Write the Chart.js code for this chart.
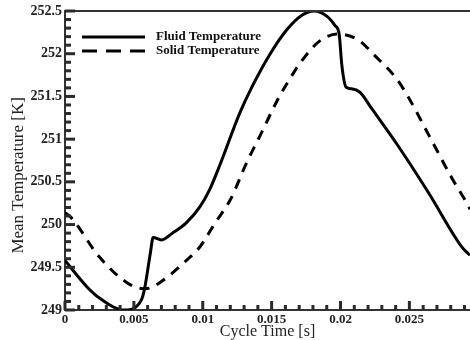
<!DOCTYPE html>
<html>
<head>
<meta charset="utf-8">
<script src="https://cdn.jsdelivr.net/npm/chart.js@4.4.1/dist/chart.umd.min.js"></script>
<style>
  body { margin: 0; background: #fff; }
  canvas { display: block; }
</style>
</head>
<body>
<canvas id="temp" width="470" height="340"></canvas>
<script>
// fluid temperature (solid line)
const fluidTime = [0, 0.0016, 0.0025, 0.0043, 0.005, 0.0056, 0.0058, 0.0062, 0.0064, 0.007, 0.0078, 0.0088,
  0.0098, 0.0105, 0.0112, 0.0127, 0.0136, 0.0149, 0.0161, 0.0172, 0.0181, 0.019, 0.0196, 0.0199,
  0.0201, 0.0204, 0.0208, 0.0214, 0.0223, 0.0241, 0.0264, 0.0288, 0.0294];
const fluidTemp = [249.58, 249.27, 249.14, 249.0, 249.02, 249.14, 249.27, 249.67, 249.85, 249.82, 249.9, 250.02,
  250.21, 250.41, 250.68, 251.31, 251.62, 252.0, 252.28, 252.45, 252.5, 252.44, 252.33, 252.23,
  251.86, 251.61, 251.59, 251.55, 251.35, 250.94, 250.37, 249.74, 249.64];

// solid temperature (dashed line)
const solidTime = [0, 0.0004, 0.0025, 0.0045, 0.0057, 0.0062, 0.0074, 0.0086, 0.0098, 0.0109, 0.012,
  0.0132, 0.0141, 0.0154, 0.0163, 0.0172, 0.0185, 0.0198, 0.0212, 0.0226, 0.0241, 0.025,
  0.0264, 0.0281, 0.0291, 0.0294];
const solidTemp = [250.14, 250.09, 249.62, 249.32, 249.25, 249.26, 249.38, 249.55, 249.74, 250.02, 250.29,
  250.73, 251.02, 251.45, 251.7, 251.92, 252.15, 252.23, 252.17, 251.96, 251.7, 251.47,
  251.05, 250.54, 250.27, 250.18];

const xMin = 0, xMax = 0.0294;
const yMin = 249, yMax = 252.5;
const xMajor = 0.005, xMinorStep = 0.001;
const yMajor = 0.5, yMinorStep = 0.1;

const serif = "'Liberation Serif', 'DejaVu Serif', serif";

function pts(xs, ys) {
  return xs.map((x, i) => ({ x: x, y: ys[i] }));
}

function isMultiple(v, step) {
  const r = v / step;
  return Math.abs(r - Math.round(r)) < 1e-6;
}

// tick values between min and max for a step
function steps(min, max, step) {
  const out = [];
  for (let i = 0; min + i * step <= max + 1e-9; i++) out.push(min + i * step);
  return out;
}

// top border, inward ticks and legend
const frame = {
  id: 'frame',
  afterDraw(chart) {
    const ctx = chart.ctx;
    const a = chart.chartArea;
    const sx = chart.scales.x;
    const sy = chart.scales.y;
    ctx.save();
    ctx.setLineDash([]);
    ctx.fillStyle = '#333';
    ctx.fillRect(a.left, a.top - 1, a.right - a.left, 2);

    // ticks pointing into the plot
    ctx.fillStyle = '#2a2a2a';
    steps(xMin, xMax, xMinorStep).forEach(v => {
      const len = isMultiple(v, xMajor) ? 9 : 5;
      const px = sx.getPixelForValue(v);
      ctx.fillRect(px - 1.5, a.bottom - len, 3, len);
    });
    steps(yMin, yMax, yMinorStep).forEach(v => {
      const len = isMultiple(v - yMin, yMajor) ? 10 : 6;
      const py = sy.getPixelForValue(v);
      ctx.fillRect(a.left, py - 1.5, len, 3);
    });

    const dashes = [[], [15, 9]];
    chart.data.datasets.forEach((ds, i) => {
      const y = a.top + 26 + i * 14;
      ctx.strokeStyle = ds.borderColor;
      ctx.lineWidth = ds.borderWidth;
      ctx.setLineDash(dashes[i]);
      ctx.beginPath();
      ctx.moveTo(a.left + 17, y);
      ctx.lineTo(a.left + 80, y);
      ctx.stroke();
      ctx.setLineDash([]);
      ctx.fillStyle = '#111';
      ctx.font = 'bold 13px ' + serif;
      ctx.textBaseline = 'middle';
      ctx.fillText(ds.label, a.left + 91, y);
    });
    ctx.restore();
  }
};

function noPad(s) {
  s.paddingTop = 0;
  s.paddingBottom = 0;
  s.paddingLeft = 0;
  s.paddingRight = 0;
}

new Chart(document.getElementById('temp'), {
  type: 'line',
  data: {
    datasets: [
      {
        label: 'Fluid Temperature',
        data: pts(fluidTime, fluidTemp),
        borderColor: '#000',
        borderWidth: 3,
        pointRadius: 0,
        cubicInterpolationMode: 'monotone',
        fill: false
      },
      {
        label: 'Solid Temperature',
        data: pts(solidTime, solidTemp),
        borderColor: '#000',
        borderWidth: 3,
        borderDash: [10, 8],
        pointRadius: 0,
        cubicInterpolationMode: 'monotone',
        fill: false
      }
    ]
  },
  options: {
    responsive: false,
    animation: false,
    layout: { padding: { top: 11, left: 0, right: 0, bottom: 0 } },
    plugins: {
      legend: { display: false },
      tooltip: { enabled: false }
    },
    scales: {
      x: {
        type: 'linear',
        position: 'bottom',
        min: xMin,
        max: xMax,
        border: { display: true, color: '#333', width: 2 },
        grid: { drawOnChartArea: false, drawTicks: false },
        ticks: {
          stepSize: xMajor,
          includeBounds: false,
          autoSkip: false,
          maxRotation: 0,
          padding: 2,
          color: '#222',
          font: { family: serif, size: 13, weight: 'bold' },
          callback: v => String(+v.toFixed(4))
        },
        title: {
          display: true,
          text: 'Cycle Time [s]',
          color: '#222',
          padding: { top: 0, bottom: 0 },
          font: { family: serif, size: 16, lineHeight: 1 }
        },
        afterFit: s => { s.height = 30; noPad(s); }
      },
      y: {
        type: 'linear',
        position: 'left',
        min: yMin,
        max: yMax,
        border: { display: true, color: '#333', width: 2 },
        grid: { drawOnChartArea: false, drawTicks: false },
        ticks: {
          stepSize: yMajor,
          autoSkip: false,
          padding: 3,
          color: '#222',
          font: { family: serif, size: 14, weight: 'bold' },
          callback: v => String(+v.toFixed(1))
        },
        title: {
          display: true,
          text: 'Mean Temperature [K]       ',
          color: '#222',
          padding: { top: 8, bottom: 0 },
          font: { family: serif, size: 17 }
        },
        afterFit: s => { s.width = 65; noPad(s); }
      }
    }
  },
  plugins: [frame]
});
</script>
</body>
</html>
